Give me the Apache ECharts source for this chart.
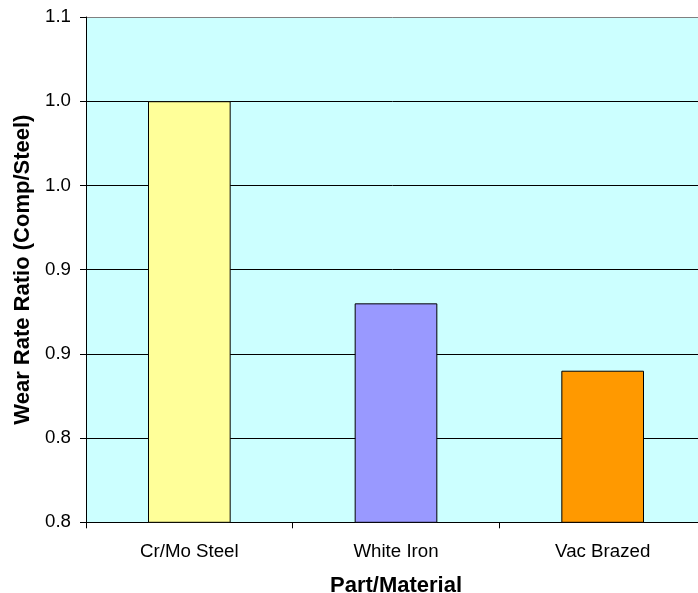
<!DOCTYPE html>
<html>
<head>
<meta charset="utf-8">
<script src="https://cdn.jsdelivr.net/npm/echarts@6/dist/echarts.min.js"></script>
<style>
  html, body { margin: 0; padding: 0; background: #ffffff; }
  #chart { width: 698px; height: 593px; }
</style>
</head>
<body>
<div id="chart"></div>
<script>
// Wear rate of each part material relative to the Cr/Mo steel baseline
const categories = ['Cr/Mo Steel', 'White Iron', 'Vac Brazed'];
const wearRatio = [1.00, 0.88, 0.84];
const barColors = ['#FFFF99', '#9999FF', '#FF9900'];

const axisMin = 0.75;
const axisMax = 1.05;
const axisStep = 0.05;

const font = '"Liberation Sans", Arial, sans-serif';

const chart = echarts.init(document.getElementById('chart'), null, { renderer: 'canvas' });

chart.setOption({
  animation: false,
  backgroundColor: '#ffffff',
  grid: {
    left: 86,
    top: 17,
    width: 620,
    height: 505.3,
    outerBoundsMode: 'none',
    containLabel: false,
    show: true,
    backgroundColor: '#CCFFFF',
    borderWidth: 0
  },
  xAxis: {
    type: 'category',
    data: categories,
    boundaryGap: true,
    name: 'Part/Material',
    nameLocation: 'middle',
    nameGap: 53,
    nameTextStyle: { fontFamily: font, fontSize: 22, fontWeight: 'bold', color: '#000' },
    axisLine: { show: true, lineStyle: { color: '#000', width: 1 } },
    axisTick: { show: true, length: 6, alignWithLabel: false, lineStyle: { color: '#000' } },
    axisLabel: { fontFamily: font, fontSize: 18.7, color: '#000', margin: 20 },
    splitLine: { show: false }
  },
  yAxis: {
    type: 'value',
    min: axisMin,
    max: axisMax,
    interval: axisStep,
    name: 'Wear Rate Ratio (Comp/Steel)',
    nameLocation: 'middle',
    nameGap: 50,
    nameTextStyle: { fontFamily: font, fontSize: 22, fontWeight: 'bold', color: '#000' },
    axisLine: { show: true, lineStyle: { color: '#000', width: 1 } },
    axisTick: { show: true, length: 6, inside: false, lineStyle: { color: '#000' } },
    axisLabel: {
      fontFamily: font,
      fontSize: 18.7,
      color: '#000',
      margin: 15,
      formatter: v => (Math.round(v * 10) / 10).toFixed(1)
    },
    splitLine: {
      show: true,
      lineStyle: {
        color: ['#000', '#000', '#000', '#000', '#000', '#000', '#808080'],
        width: 1
      }
    }
  },
  series: [{
    type: 'bar',
    barWidth: '40%',
    data: wearRatio.map((v, i) => ({
      value: v,
      itemStyle: { color: barColors[i], borderColor: '#000', borderWidth: 1 }
    }))
  }]
});
</script>
</body>
</html>
